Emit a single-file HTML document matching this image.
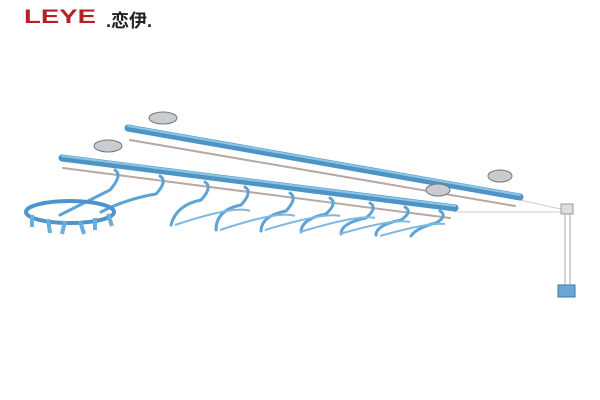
<!DOCTYPE html>
<html><head><style>
body{margin:0;width:600px;height:400px;background:#fff;overflow:hidden;position:relative;font-family:"Liberation Sans","Noto Sans CJK SC",sans-serif}
.logo{position:absolute;left:24px;top:7px;font-weight:900;font-size:19px;color:#b82025;letter-spacing:0px;transform:scaleX(1.45);transform-origin:left}
.cn{position:absolute;left:106px;top:7px;font-size:18px;color:#222;font-weight:bold}
</style></head><body>
<div class="logo">LEYE</div><div class="cn">.恋伊.</div>
<svg width="600" height="400" style="position:absolute;left:0;top:0">
<g stroke-linecap="round" fill="none">
<line x1="520" y1="200" x2="565" y2="210" stroke="#ccc" stroke-width="1"/>
<line x1="455" y1="212" x2="565" y2="212" stroke="#ccc" stroke-width="1"/>
<line x1="565" y1="212" x2="565" y2="285" stroke="#aaa" stroke-width="1"/>
<line x1="570" y1="212" x2="570" y2="285" stroke="#aaa" stroke-width="1"/>
<rect x="561" y="204" width="12" height="10" fill="#ddd" stroke="#999"/>
<rect x="558" y="285" width="17" height="12" fill="#6aa7d6" stroke="#3a77a6"/>
<line x1="130" y1="140" x2="515" y2="206" stroke="#b8a8a0" stroke-width="2"/>
<line x1="128" y1="128" x2="520" y2="197" stroke="#4d94c4" stroke-width="7"/>
<line x1="128" y1="126" x2="520" y2="195" stroke="#8cc6e8" stroke-width="2"/>
<line x1="63" y1="168" x2="450" y2="218" stroke="#b8a8a0" stroke-width="2"/>
<line x1="62" y1="158" x2="455" y2="208" stroke="#4d94c4" stroke-width="7"/>
<line x1="62" y1="156" x2="455" y2="206" stroke="#8cc6e8" stroke-width="2"/>
</g>
<g fill="#c8ccd0" stroke="#777">
<ellipse cx="163" cy="118" rx="14" ry="6"/><ellipse cx="108" cy="146" rx="14" ry="6"/>
<ellipse cx="500" cy="176" rx="12" ry="6"/><ellipse cx="438" cy="190" rx="12" ry="6"/>
</g>
<g fill="none" stroke="#5ea3d4" stroke-width="3" stroke-linecap="round">
<path d="M115 170 q8 5 -5 20 L60 215"/>
<path d="M160 176 q8 5 -4 18 q-30 5 -55 18"/>
<path d="M205 182 q8 5 -4 18 q-25 5 -30 25"/>
<path d="M245 187 q8 5 -4 18 q-25 5 -25 25"/>
<path d="M290 193 q8 5 -4 18 q-25 5 -25 20"/>
<path d="M330 198 q8 5 -4 16 q-25 5 -25 18"/>
<path d="M370 203 q8 5 -4 15 q-25 5 -25 16"/>
<path d="M405 207 q8 5 -4 13 q-25 5 -25 15"/>
<path d="M440 211 q8 5 -4 12 q-20 5 -25 13"/>
</g>
<g fill="none" stroke="#7fb8e0" stroke-width="2">
<path d="M175 225 q60 -20 75 -14"/><path d="M220 230 q60 -20 75 -14"/><path d="M265 230 q60 -18 75 -14"/>
<path d="M300 232 q60 -18 75 -14"/><path d="M340 234 q55 -16 70 -12"/><path d="M380 236 q50 -14 65 -12"/>
</g>
<ellipse cx="70" cy="212" rx="44" ry="11" fill="none" stroke="#4f93cc" stroke-width="4"/>
<g stroke="#6aaedc" stroke-width="4">
<line x1="32" y1="215" x2="32" y2="227"/><line x1="48" y1="219" x2="50" y2="233"/><line x1="65" y1="221" x2="62" y2="234"/>
<line x1="80" y1="221" x2="84" y2="234"/><line x1="95" y1="218" x2="95" y2="230"/><line x1="108" y1="214" x2="112" y2="226"/>
</g>
</svg>
</body></html>
